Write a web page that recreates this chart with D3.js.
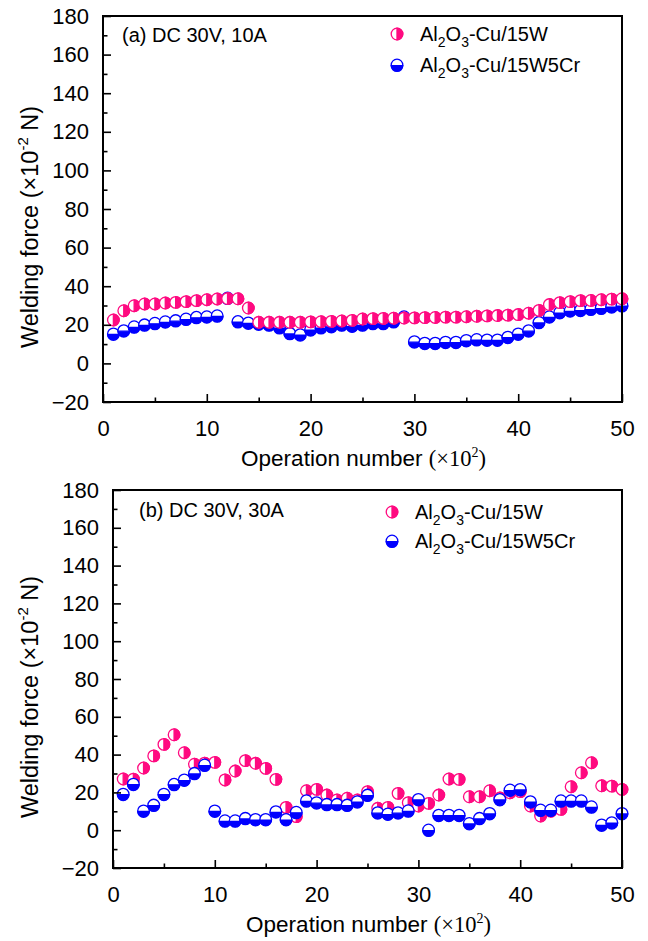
<!DOCTYPE html>
<html>
<head>
<meta charset="utf-8">
<script src="https://cdn.jsdelivr.net/npm/d3@7"></script>
<style>
  html, body { margin: 0; padding: 0; background: #fff; }
  svg { display: block; }
  text { font-family: "Liberation Sans", Arial, sans-serif; fill: #000; }
</style>
</head>
<body>
<svg id="chart" width="648" height="941"></svg>
<script>
// Operation number (x10^2)
const operations = d3.range(1, 51);

// (a) DC 30V, 10A — welding force (x10^-2 N)
const forceA_15W = [
  22.5, 27.3, 29.9, 30.8, 30.8, 31.3, 31.6, 32.0, 32.5, 33.0,
  33.4, 33.6, 33.5, 28.7, 21.3, 21.3, 21.3, 21.3, 21.3, 21.5,
  21.6, 21.8, 22.0, 22.3, 23.0, 23.2, 23.3, 23.4, 23.5, 23.6,
  23.7, 23.8, 24.0, 24.0, 24.2, 24.4, 24.6, 24.8, 25.0, 25.3,
  26.0, 27.5, 30.5, 31.5, 32.0, 32.5, 32.6, 33.0, 33.3, 33.5
];
const forceA_15W5Cr = [
  15.3, 17.0, 19.0, 20.0, 20.8, 21.6, 22.2, 23.0, 23.9, 24.2,
  24.7, 33.9, 21.7, 21.0, 20.5, 20.0, 18.6, 15.6, 14.9, 17.5,
  18.6, 19.2, 20.0, 19.4, 20.0, 20.8, 20.8, 21.7, 24.2, 11.3,
  10.5, 10.5, 11.0, 11.0, 11.9, 12.4, 12.2, 12.2, 13.6, 15.3,
  17.0, 21.3, 24.2, 26.4, 27.3, 27.6, 28.2, 28.7, 29.4, 30.0
];

// (b) DC 30V, 30A — welding force (x10^-2 N)
const forceB_15W = [
  27.1, 27.0, 32.9, 39.3, 45.4, 50.5, 41.0, 34.9, 35.5, 35.9,
  26.6, 31.3, 36.8, 35.4, 32.7, 26.9, 12.1, 7.2, 20.9, 21.6,
  18.6, 16.0, 16.9, 16.0, 20.4, 11.6, 12.1, 19.5, 14.6, 12.8,
  14.2, 18.6, 27.1, 26.9, 17.7, 17.7, 20.9, 17.0, 19.8, 20.4,
  12.8, 7.5, 10.0, 11.0, 23.0, 30.4, 35.7, 23.5, 23.3, 21.6
];
const forceB_15W5Cr = [
  19.1, 24.4, 10.2, 13.3, 19.1, 24.3, 26.6, 30.1, 34.5, 10.2,
  5.0, 5.0, 6.3, 5.7, 5.7, 9.8, 5.7, 9.5, 15.6, 14.6,
  13.7, 13.7, 13.3, 15.1, 18.6, 9.3, 8.6, 9.3, 10.3, 16.3,
  0.1, 8.0, 8.0, 8.0, 3.6, 6.3, 8.9, 16.3, 21.3, 21.6,
  15.1, 10.7, 10.7, 15.6, 15.6, 15.6, 12.4, 2.8, 4.0, 8.9
];

// Axis ticks
const yMajorTicks = d3.range(-20, 181, 20);
const yMinorTicks = d3.range(-10, 180, 20);
const xMajorTicks = d3.range(0, 51, 10);
const xMinorTicks = d3.range(5, 50, 10);

// Legend / panel labels
const seriesNames = ["15W", "15W5Cr"];
const panelTitles = ["(a) DC 30V, 10A", "(b) DC 30V, 30A"];

const PINK = "#ff0a80";
const BLUE = "#0000ff";

const svg = d3.select("#chart");

const panels = [
  { title: panelTitles[0], left: 103, right: 622, top: 16, bottom: 402,
    series: [ { data: forceA_15W5Cr, kind: "bottom", color: BLUE },
              { data: forceA_15W,    kind: "right",  color: PINK } ],
    legend: { x: 397, y1: 34, y2: 65 }, titleX: 122, titleY: 42 },
  { title: panelTitles[1], left: 113, right: 622, top: 490, bottom: 868,
    series: [ { data: forceB_15W,    kind: "right",  color: PINK },
              { data: forceB_15W5Cr, kind: "bottom", color: BLUE } ],
    legend: { x: 392, y1: 512, y2: 541 }, titleX: 139, titleY: 517 }
];

const R = 5.8;

// Half-filled circle marker: white disc, coloured outline, one filled half
function marker(g, kind, color) {
  g.append("circle").attr("r", R).attr("fill", "#fff")
    .attr("stroke", color).attr("stroke-width", 1.3);
  const half = kind === "right"
    ? `M0,${-R} A${R},${R} 0 0 1 0,${R} Z`
    : `M${-R},0.6 A${R},${R} 0 0 0 ${R},0.6 Z`;
  g.append("path").attr("d", half).attr("fill", color)
    .attr("stroke", color).attr("stroke-width", 1.3);
}

panels.forEach(p => {
  const x = d3.scaleLinear().domain([0, 50]).range([p.left, p.right]);
  const y = d3.scaleLinear().domain([-20, 180]).range([p.bottom, p.top]);
  const g = svg.append("g");

  // points
  p.series.forEach(s => {
    g.append("g").selectAll("g")
      .data(operations.map((o, i) => [o, s.data[i]]))
      .join("g")
      .attr("transform", d => `translate(${x(d[0])},${y(d[1])})`)
      .each(function () { marker(d3.select(this), s.kind, s.color); });
  });

  // left axis: inward ticks
  const yAxis = d3.axisLeft(y).tickValues(yMajorTicks).tickSize(-8).tickPadding(14)
    .tickFormat(d3.format("d"));
  const ya = g.append("g").attr("transform", `translate(${p.left},0)`).call(yAxis);
  ya.select(".domain").remove();
  ya.selectAll("line").attr("stroke", "#000").attr("stroke-width", 1.6);
  ya.selectAll("text").attr("font-size", 22).attr("font-family", "Liberation Sans, Arial, sans-serif")
    .attr("fill", "#000");
  const yaMinor = d3.axisLeft(y).tickValues(yMinorTicks).tickSize(-4.5).tickFormat("");
  const ym = g.append("g").attr("transform", `translate(${p.left},0)`).call(yaMinor);
  ym.select(".domain").remove();
  ym.selectAll("line").attr("stroke", "#000").attr("stroke-width", 1.6);

  // bottom axis: inward ticks
  const xAxis = d3.axisBottom(x).tickValues(xMajorTicks).tickSize(-8).tickPadding(18)
    .tickFormat(d3.format("d"));
  const xa = g.append("g").attr("transform", `translate(0,${p.bottom})`).call(xAxis);
  xa.select(".domain").remove();
  xa.selectAll("line").attr("stroke", "#000").attr("stroke-width", 1.6);
  xa.selectAll("text").attr("font-size", 22).attr("font-family", "Liberation Sans, Arial, sans-serif")
    .attr("fill", "#000");
  const xaMinor = d3.axisBottom(x).tickValues(xMinorTicks).tickSize(-4.5).tickFormat("");
  const xm = g.append("g").attr("transform", `translate(0,${p.bottom})`).call(xaMinor);
  xm.select(".domain").remove();
  xm.selectAll("line").attr("stroke", "#000").attr("stroke-width", 1.6);

  // frame
  g.append("rect").attr("x", p.left).attr("y", p.top)
    .attr("width", p.right - p.left).attr("height", p.bottom - p.top)
    .attr("fill", "none").attr("stroke", "#000").attr("stroke-width", 2);

  // panel annotation
  g.append("text").attr("x", p.titleX).attr("y", p.titleY)
    .attr("font-size", 20).text(p.title);

  // legend
  [[p.legend.y1, "right", PINK, seriesNames[0]], [p.legend.y2, "bottom", BLUE, seriesNames[1]]]
    .forEach(([ly, kind, color, name]) => {
      const lg = g.append("g").attr("transform", `translate(${p.legend.x},${ly})`);
      marker(lg, kind, color);
      const t = g.append("text").attr("x", p.legend.x + 23).attr("y", ly + 7).attr("font-size", 20);
      t.append("tspan").text("Al");
      t.append("tspan").attr("font-size", 14).attr("dy", 6).text("2");
      t.append("tspan").attr("dy", -6).text("O");
      t.append("tspan").attr("font-size", 14).attr("dy", 6).text("3");
      t.append("tspan").attr("dy", -6).text("-Cu/" + name);
    });

  // x title
  const xt = g.append("text").attr("x", (p.left + p.right) / 2 + 1).attr("y", p.bottom + 64)
    .attr("text-anchor", "middle").attr("font-size", 22.5);
  xt.append("tspan").text("Operation number ");
  xt.append("tspan").attr("font-family", "Liberation Serif, Times New Roman, serif").text("(\u00d710");
  xt.append("tspan").attr("font-family", "Liberation Serif, Times New Roman, serif")
    .attr("font-size", 14).attr("dy", -9).text("2");
  xt.append("tspan").attr("font-family", "Liberation Serif, Times New Roman, serif")
    .attr("dy", 9).text(")");

  // y title
  const cy = (p.top + p.bottom) / 2 + 18;
  const yt = g.append("text").attr("transform", `translate(38,${cy}) rotate(-90)`)
    .attr("text-anchor", "middle").attr("font-size", 23.5);
  yt.append("tspan").text("Welding force (\u00d710");
  yt.append("tspan").attr("font-size", 15).attr("dy", -10).text("-2");
  yt.append("tspan").attr("dy", 10).text(" N)");
});
</script>
</body>
</html>
